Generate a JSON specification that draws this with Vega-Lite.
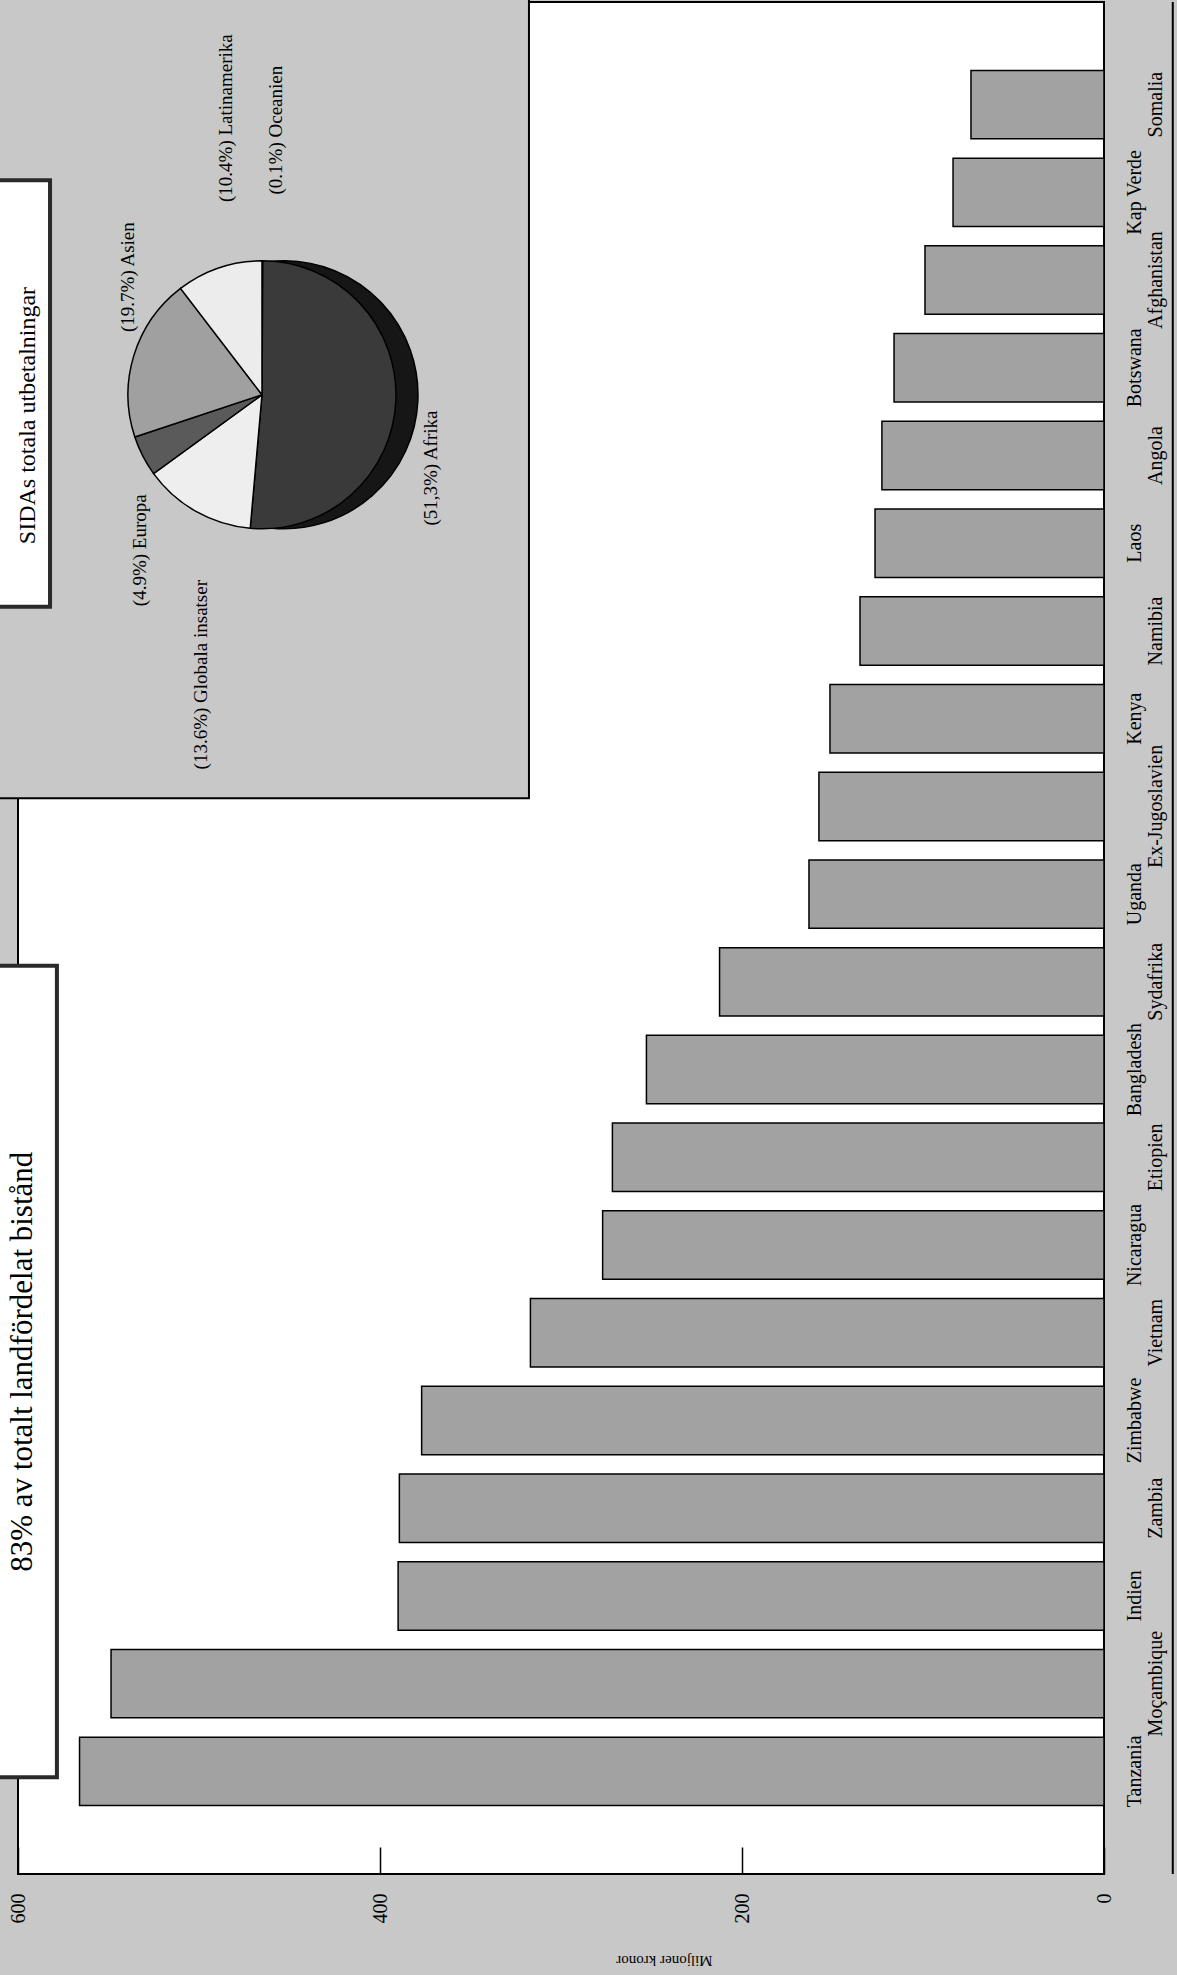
{
  "$schema": "https://vega.github.io/schema/vega-lite/v6.json",
  "width": 1086,
  "height": 1872,
  "autosize": {"type": "none"},
  "padding": {"left": 18, "top": 2, "right": 73, "bottom": 101},
  "background": "#c8c8c8",
  "config": {
    "view": {"fill": "white", "stroke": "black", "strokeWidth": 2},
    "font": "Liberation Serif"
  },
  "data": {
    "values": [
      {"land": "Somalia", "mkr": 73.5},
      {"land": "Kap Verde", "mkr": 83.4},
      {"land": "Afghanistan", "mkr": 98.9},
      {"land": "Botswana", "mkr": 116},
      {"land": "Angola", "mkr": 122.7},
      {"land": "Laos", "mkr": 126.5},
      {"land": "Namibia", "mkr": 134.8},
      {"land": "Kenya", "mkr": 151.4},
      {"land": "Ex-Jugoslavien", "mkr": 157.5},
      {"land": "Uganda", "mkr": 163},
      {"land": "Sydafrika", "mkr": 212.4},
      {"land": "Bangladesh", "mkr": 252.8},
      {"land": "Etiopien", "mkr": 271.6},
      {"land": "Nicaragua", "mkr": 277},
      {"land": "Vietnam", "mkr": 316.9},
      {"land": "Zimbabwe", "mkr": 377},
      {"land": "Zambia", "mkr": 389.3},
      {"land": "Indien", "mkr": 390},
      {"land": "Moçambique", "mkr": 548.6},
      {"land": "Tanzania", "mkr": 566}
    ]
  },
  "layer": [
    {
      "mark": {"type": "bar", "fill": "#a2a2a2", "stroke": "black", "strokeWidth": 1.5},
      "encoding": {
        "y": {
          "field": "land",
          "type": "nominal",
          "scale": {
            "domain": ["Somalia", "Kap Verde", "Afghanistan", "Botswana", "Angola", "Laos", "Namibia", "Kenya", "Ex-Jugoslavien", "Uganda", "Sydafrika", "Bangladesh", "Etiopien", "Nicaragua", "Vietnam", "Zimbabwe", "Zambia", "Indien", "Moçambique", "Tanzania"],
            "paddingInner": 0.22,
            "paddingOuter": 0.78
          },
          "axis": {
            "orient": "right",
            "title": null,
            "ticks": false,
            "domain": false,
            "labelAngle": 270,
            "labelAlign": "center",
            "labelBaseline": "top",
            "labelFont": "Liberation Serif",
            "labelFontSize": 20,
            "labelColor": "black",
            "labelPadding": 20,
            "labelOverlap": false,
            "encoding": {
              "labels": {
                "dy": {"value": {"expr": "indexof(['Somalia','Afghanistan','Angola','Namibia','Ex-Jugoslavien','Sydafrika','Etiopien','Vietnam','Zambia','Moçambique'], datum.value) >= 0 ? 21 : 0"}}
              }
            }
          }
        },
        "x": {
          "field": "mkr",
          "type": "quantitative",
          "scale": {"domain": [0, 600], "reverse": true, "nice": false},
          "axis": {
            "orient": "bottom",
            "title": "Miljoner kronor",
            "values": [0, 200, 400, 600],
            "grid": false,
            "domain": false,
            "ticks": true,
            "tickSize": -27,
            "tickColor": "black",
            "tickWidth": 1.5,
            "labelAngle": 270,
            "labelAlign": "right",
            "labelBaseline": "middle",
            "labelFont": "Liberation Serif",
            "labelFontSize": 20,
            "labelColor": "black",
            "labelPadding": 46,
            "labelFlush": false,
            "labelOverlap": false,
            "titleFont": "Liberation Serif",
            "titleFontSize": 15,
            "titleFontWeight": "normal",
            "titleColor": "black",
            "titleAngle": 180,
            "titleX": 646,
            "titleY": 86,
            "titleAlign": "center",
            "titleBaseline": "middle"
          }
        }
      }
    },
    {
      "data": {"values": [{}]},
      "mark": {"type": "rect", "fill": "#c8c8c8", "stroke": "black", "strokeWidth": 2, "yOffset": -120, "y2Offset": 26},
      "encoding": {
        "x": {"datum": 317.7},
        "x2": {"datum": 640},
        "y": {"datum": "Somalia", "bandPosition": 0},
        "y2": {"datum": "Ex-Jugoslavien", "bandPosition": 0}
      }
    },
    {
      "data": {
        "values": [
          {"region": "Oceanien", "andel": 0.1},
          {"region": "Afrika", "andel": 51.3},
          {"region": "Globala insatser", "andel": 13.6},
          {"region": "Europa", "andel": 4.9},
          {"region": "Asien", "andel": 19.7},
          {"region": "Latinamerika", "andel": 10.4}
        ]
      },
      "transform": [{"window": [{"op": "row_number", "as": "nr"}]}],
      "layer": [
        {
          "mark": {"type": "arc", "outerRadius": 134, "fill": "#161616", "stroke": "black", "strokeWidth": 1.5, "xOffset": 22, "yOffset": 27},
          "encoding": {
            "theta": {"field": "andel", "type": "quantitative", "stack": true},
            "order": {"field": "nr", "type": "quantitative"},
            "x": {"datum": 465.2},
            "y": {"datum": "Botswana"}
          }
        },
        {
          "mark": {"type": "arc", "outerRadius": 134, "stroke": "black", "strokeWidth": 1.5, "yOffset": 27},
          "encoding": {
            "theta": {"field": "andel", "type": "quantitative", "stack": true},
            "order": {"field": "nr", "type": "quantitative"},
            "color": {
              "field": "region",
              "type": "nominal",
              "scale": {
                "domain": ["Oceanien", "Afrika", "Globala insatser", "Europa", "Asien", "Latinamerika"],
                "range": ["#222222", "#3a3a3a", "#eeeeee", "#5a5a5a", "#a0a0a0", "#ececec"]
              },
              "legend": null
            },
            "x": {"datum": 465.2},
            "y": {"datum": "Botswana"}
          }
        }
      ]
    },
    {
      "data": {"values": [{}]},
      "mark": {"type": "text", "text": "(51,3%) Afrika", "angle": 270, "align": "center", "baseline": "middle", "font": "Liberation Serif", "fontSize": 19, "fill": "black", "yOffset": 12.5},
      "encoding": {"x": {"datum": 372}, "y": {"datum": "Angola"}}
    },
    {
      "data": {"values": [{}]},
      "mark": {"type": "text", "text": "(19.7%) Asien", "angle": 270, "align": "center", "baseline": "middle", "font": "Liberation Serif", "fontSize": 19, "fill": "black", "yOffset": -3},
      "encoding": {"x": {"datum": 539.2}, "y": {"datum": "Afghanistan"}}
    },
    {
      "data": {"values": [{}]},
      "mark": {"type": "text", "text": "(10.4%) Latinamerika", "angle": 270, "align": "center", "baseline": "middle", "font": "Liberation Serif", "fontSize": 19, "fill": "black", "yOffset": 13.5},
      "encoding": {"x": {"datum": 485.1}, "y": {"datum": "Somalia"}}
    },
    {
      "data": {"values": [{}]},
      "mark": {"type": "text", "text": "(0.1%) Oceanien", "angle": 270, "align": "center", "baseline": "middle", "font": "Liberation Serif", "fontSize": 19, "fill": "black", "yOffset": 25.5},
      "encoding": {"x": {"datum": 457.5}, "y": {"datum": "Somalia"}}
    },
    {
      "data": {"values": [{}]},
      "mark": {"type": "text", "text": "(4.9%) Europa", "angle": 270, "align": "center", "baseline": "middle", "font": "Liberation Serif", "fontSize": 19, "fill": "black", "yOffset": 7},
      "encoding": {"x": {"datum": 532.6}, "y": {"datum": "Laos"}}
    },
    {
      "data": {"values": [{}]},
      "mark": {"type": "text", "text": "(13.6%) Globala insatser", "angle": 270, "align": "center", "baseline": "middle", "font": "Liberation Serif", "fontSize": 19, "fill": "black", "yOffset": -44},
      "encoding": {"x": {"datum": 498.9}, "y": {"datum": "Kenya"}}
    },
    {
      "data": {"values": [{}]},
      "mark": {"type": "rect", "fill": "white", "stroke": "#2a2a2a", "strokeWidth": 4, "yOffset": 22, "y2Offset": 10},
      "encoding": {
        "x": {"datum": 582.3},
        "x2": {"datum": 640},
        "y": {"datum": "Kap Verde", "bandPosition": 0},
        "y2": {"datum": "Namibia", "bandPosition": 0}
      }
    },
    {
      "data": {"values": [{}]},
      "mark": {"type": "text", "text": "SIDAs totala utbetalningar", "angle": 270, "align": "center", "baseline": "middle", "font": "Liberation Serif", "fontSize": 24, "fill": "black", "yOffset": -40},
      "encoding": {"x": {"datum": 594.2}, "y": {"datum": "Angola"}}
    },
    {
      "data": {"values": [{}]},
      "mark": {"type": "rect", "fill": "white", "stroke": "#2a2a2a", "strokeWidth": 4, "yOffset": 18, "y2Offset": 40},
      "encoding": {
        "x": {"datum": 578.5},
        "x2": {"datum": 640},
        "y": {"datum": "Sydafrika", "bandPosition": 0},
        "y2": {"datum": "Tanzania", "bandPosition": 0}
      }
    },
    {
      "data": {"values": [{}]},
      "mark": {"type": "text", "text": "83% av totalt landfördelat bistånd", "angle": 270, "align": "center", "baseline": "middle", "font": "Liberation Serif", "fontSize": 31, "fill": "black", "yOffset": 29},
      "encoding": {"x": {"datum": 597.2}, "y": {"datum": "Vietnam"}}
    },
    {
      "data": {"values": [{}]},
      "mark": {"type": "rule", "stroke": "black", "strokeWidth": 2},
      "encoding": {"x": {"datum": -38}}
    }
  ]
}
